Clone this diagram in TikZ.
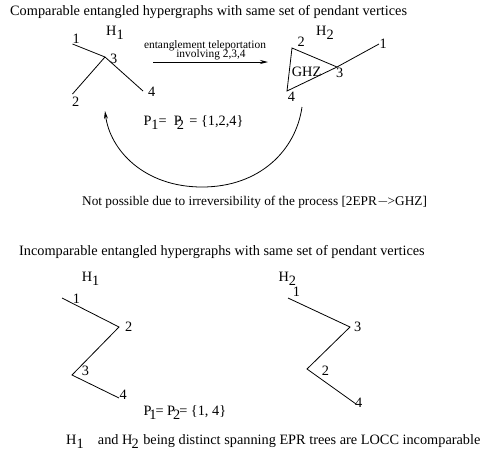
\documentclass[tikz,border=0pt]{standalone}
\usepackage{fontspec}
\setmainfont{Liberation Serif}
\usetikzlibrary{arrows.meta}
\newcommand\sbx[1]{\raisebox{-4pt}{#1}}
\begin{document}
\begin{tikzpicture}[x=1pt,y=-1pt,
  every node/.style={inner sep=0pt,font=\fontsize{14.3}{16}\selectfont},
  txt/.style={anchor=base west},
  lbl/.style={anchor=base west},
  small/.style={anchor=base,font=\fontsize{11.4}{13}\selectfont},
  edge/.style={line width=0.8pt},
  arr/.style={line width=0.8pt,-{Stealth[length=8pt,width=4pt]}}]
\useasboundingbox (0,0) rectangle (480,459);
% titles
\node[txt] (t1) at (10,15) {Comparable entangled hypergraphs with same set of pendant vertices};
\node[txt,font=\fontsize{13.3}{15}\selectfont] (t2) at (82,205) {Not possible due to irreversibility of the process [2EPR{\kern0.5pt}{\(-\)}{\kern-1pt}>GHZ]};
\node[txt] (t3) at (19,255) {Incomparable entangled hypergraphs with same set of pendant vertices};
\node[txt] (t4) at (66,444) {H\sbx{1}\quad and H\kern-1pt\sbx{2}\kern1pt\ being distinct spanning EPR trees are LOCC incomparable};
% top H1
\node[lbl] (h1a) at (106,35) {H\sbx{1}};
\coordinate (a1) at (72.5,44);
\coordinate (a3) at (105,57);
\coordinate (a2) at (72.5,94);
\coordinate (a4) at (143,91);
\draw[edge] (a1) -- (a3) (a3) -- (a2) (a3) -- (a4);
\node[lbl] (la1) at (72.5,43) {1};
\node[lbl] (la3) at (110,63) {3};
\node[lbl] (la4) at (148,96) {4};
\node[lbl] (la2) at (72,106) {2};
% arrow
\coordinate (s1) at (153,62);
\coordinate (s2) at (268,62);
\draw[arr] (s1) -- (s2);
\node[small] (al1) at (205,48.3) {entanglement teleportation};
\node[small] (al2) at (211,57.3) {involving 2,3,4};
% top H2
\node[lbl] (h2a) at (316,35) {H\sbx{2}};
\coordinate (b2) at (292,48);
\coordinate (b3) at (337,67);
\coordinate (b4) at (287,91);
\coordinate (b1) at (379,44);
\draw[edge] (b2) -- (b3) -- (b4) -- cycle;
\draw[edge] (b3) -- (b1);
\node[lbl] (ghz) at (291.7,76.7) {GHZ};
\node[lbl] (lb2) at (297.5,46.7) {2};
\node[lbl] (lb1) at (379.5,48.3) {1};
\node[lbl] (lb3) at (336,77.3) {3};
\node[lbl] (lb4) at (287.7,101) {4};
% P line
\node[lbl] (p1) at (143.3,125) {P\sbx{1}=\ \ P\kern-5pt\sbx{2}\kern2pt\ = \{1,2,4\}};
% curved arrow
\coordinate (c0) at (302,107);
\coordinate (c1) at (202,187);
\coordinate (c2) at (105,111);
\draw[arr] (c0) .. controls (296,150) and (260,187) .. (c1)
  .. controls (144,187) and (110,150) .. (c2);
% bottom H1
\node[lbl] (h1b) at (81.7,281.7) {H\sbx{1}};
\coordinate (d1) at (62,298);
\coordinate (d2) at (119,327);
\coordinate (d3) at (72,375);
\coordinate (d4) at (119,398);
\draw[edge] (d1) -- (d2) -- (d3) -- (d4);
\node[lbl] (ld1) at (72.7,303.3) {1};
\node[lbl] (ld2) at (125,331) {2};
\node[lbl] (ld3) at (81.7,375) {3};
\node[lbl] (ld4) at (119.3,399) {4};
% bottom H2
\node[lbl] (h2b) at (278.3,281) {H\sbx{2}};
\coordinate (e1) at (288,298);
\coordinate (e3) at (350,327);
\coordinate (e2) at (307,369);
\coordinate (e4) at (356,404);
\draw[edge] (e1) -- (e3) -- (e2) -- (e4);
\node[lbl] (le1) at (292.7,296.7) {1};
\node[lbl] (le3) at (354,331) {3};
\node[lbl] (le2) at (321.7,375) {2};
\node[lbl] (le4) at (355,407.3) {4};
% P line bottom
\node[lbl] (p2) at (143.3,415) {P\kern-2pt\sbx{1}\kern-1pt= P\kern-2pt\sbx{2}\kern-1pt= \{1, 4\}};
\end{tikzpicture}
\end{document}
